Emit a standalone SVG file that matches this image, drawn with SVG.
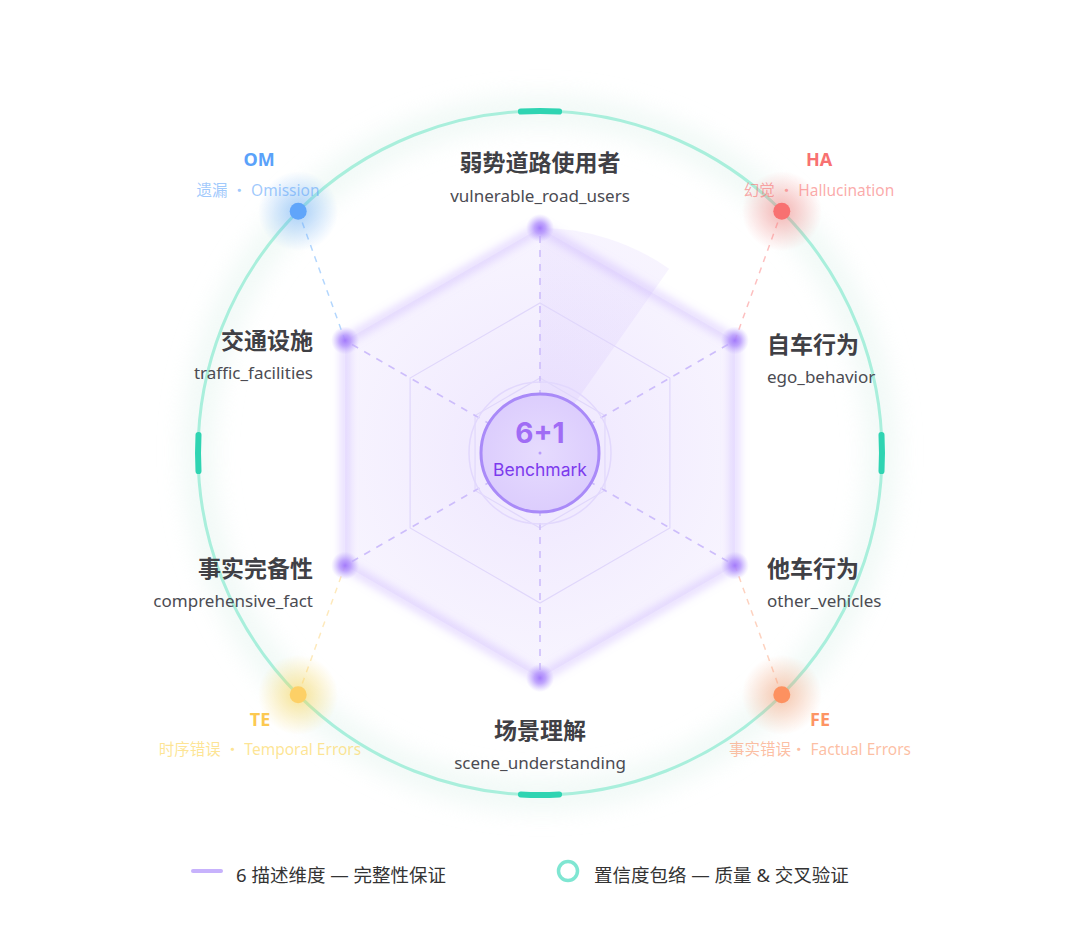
<svg xmlns="http://www.w3.org/2000/svg" width="1080" height="929" viewBox="0 0 1080 929">
<style>
.t{font-family:"Noto Sans","Noto Sans CJK SC",sans-serif}
.dt{font-size:23px;font-weight:700;fill:#404045}
.ds{font-size:17px;fill:#4b4b52}
.ck{font-size:18px;font-weight:700}
.cs{font-size:15.5px}
.lg{font-size:18.5px;fill:#333}
.axis{stroke:#cdbdfb;stroke-width:1.6;stroke-dasharray:7 7;fill:none}
.grid{stroke:#e0d7fb;stroke-width:1.2;fill:none}
.tick{stroke:#2fd4b2;stroke-width:6;stroke-linecap:round;fill:none}
</style>
<defs>
<filter id="b3" x="-20%" y="-20%" width="140%" height="140%"><feGaussianBlur stdDeviation="4"/></filter>
<filter id="b10" x="-20%" y="-20%" width="140%" height="140%"><feGaussianBlur stdDeviation="12"/></filter>
<radialGradient id="polyG" cx="540" cy="453" r="225" gradientUnits="userSpaceOnUse">
<stop offset="0" stop-color="#e6dafe" stop-opacity="0.7"/>
<stop offset="1" stop-color="#f0eafe" stop-opacity="0.5"/>
</radialGradient>
<radialGradient id="secG" cx="540" cy="453" r="225" gradientUnits="userSpaceOnUse">
<stop offset="0" stop-color="#c9b2fb" stop-opacity="0.2"/>
<stop offset="1" stop-color="#dccdfd" stop-opacity="0.22"/>
</radialGradient>
<radialGradient id="ctrG" cx="0.5" cy="0.5" r="0.5">
<stop offset="0" stop-color="#e6dbfe"/>
<stop offset="1" stop-color="#dccdfd"/>
</radialGradient>
<radialGradient id="hB"><stop offset="0.2" stop-color="#60a5fa" stop-opacity="0.4"/><stop offset="1" stop-color="#60a5fa" stop-opacity="0"/></radialGradient>
<radialGradient id="hR"><stop offset="0.2" stop-color="#f87171" stop-opacity="0.4"/><stop offset="1" stop-color="#f87171" stop-opacity="0"/></radialGradient>
<radialGradient id="hY"><stop offset="0.2" stop-color="#fcd34d" stop-opacity="0.45"/><stop offset="1" stop-color="#fcd34d" stop-opacity="0"/></radialGradient>
<radialGradient id="hO"><stop offset="0.2" stop-color="#fb9466" stop-opacity="0.4"/><stop offset="1" stop-color="#fb9466" stop-opacity="0"/></radialGradient>
<radialGradient id="vG"><stop offset="0" stop-color="#a47cfb"/><stop offset="0.4" stop-color="#b393fc" stop-opacity="0.8"/><stop offset="1" stop-color="#c4b0fd" stop-opacity="0"/></radialGradient>
</defs>
<rect width="1080" height="929" fill="#fff"/>

<g id="envelope">
<circle cx="540" cy="453" r="342" fill="none" stroke="#e6f5f0" stroke-width="30" opacity="0.6" filter="url(#b10)"/>
<circle cx="540" cy="453" r="342" fill="none" stroke="#a9efdc" stroke-width="3"/>
<path class="tick" d="M520.9,111.5 A342,342 0 0 1 559.1,111.5"/>
<path class="tick" d="M520.9,794.5 A342,342 0 0 0 559.1,794.5"/>
<path class="tick" d="M198.5,434.9 A342,342 0 0 0 198.5,471.1"/>
<path class="tick" d="M881.5,434.9 A342,342 0 0 1 881.5,471.1"/>
</g>

<g id="radar">
<polygon points="540,228 734.9,340.5 734.9,565.5 540,678 345.1,565.5 345.1,340.5" fill="url(#polyG)"/>
<path d="M540,453 L540,228 A225,225 0 0 1 669.1,268.7 Z" fill="url(#secG)"/>
<polygon points="540,228 734.9,340.5 734.9,565.5 540,678 345.1,565.5 345.1,340.5" fill="none" stroke="#b99dfd" stroke-width="10" stroke-opacity="0.35" filter="url(#b3)"/>
<polygon class="grid" points="540,303 669.9,378 669.9,528 540,603 410.1,528 410.1,378"/>
<polygon class="grid" points="540,378 604.95,415.5 604.95,490.5 540,528 475.05,490.5 475.05,415.5"/>
</g>

<g id="connectors">
<line class="axis" x1="540" y1="453" x2="540" y2="228"/>
<line class="axis" x1="540" y1="453" x2="734.9" y2="340.5"/>
<line class="axis" x1="540" y1="453" x2="734.9" y2="565.5"/>
<line class="axis" x1="540" y1="453" x2="540" y2="678"/>
<line class="axis" x1="540" y1="453" x2="345.1" y2="565.5"/>
<line class="axis" x1="540" y1="453" x2="345.1" y2="340.5"/>
<line x1="298.2" y1="211.2" x2="345.1" y2="340.5" stroke="#93c5fd" stroke-width="1.5" stroke-dasharray="6 6" opacity="0.7"/>
<line x1="781.8" y1="211.2" x2="734.9" y2="340.5" stroke="#fca5a5" stroke-width="1.5" stroke-dasharray="6 6" opacity="0.7"/>
<line x1="298.2" y1="694.8" x2="345.1" y2="565.5" stroke="#fde0a0" stroke-width="1.5" stroke-dasharray="6 6" opacity="0.7"/>
<line x1="781.8" y1="694.8" x2="734.9" y2="565.5" stroke="#fdbfa5" stroke-width="1.5" stroke-dasharray="6 6" opacity="0.7"/>
</g>

<g id="vertices">
<circle cx="540" cy="228" r="14" fill="url(#vG)"/>
<circle cx="734.9" cy="340.5" r="14" fill="url(#vG)"/>
<circle cx="734.9" cy="565.5" r="14" fill="url(#vG)"/>
<circle cx="540" cy="678" r="14" fill="url(#vG)"/>
<circle cx="345.1" cy="565.5" r="14" fill="url(#vG)"/>
<circle cx="345.1" cy="340.5" r="14" fill="url(#vG)"/>
</g>

<g id="center">
<circle cx="540" cy="453" r="71" fill="none" stroke="#e2d8fd" stroke-width="1.5"/>
<circle cx="540" cy="453" r="59" fill="url(#ctrG)" stroke="#a98af8" stroke-width="3"/>
<circle cx="540" cy="453" r="1.5" fill="#b99cfb"/>
<text x="540" y="443" text-anchor="middle" font-family="Inter,'Noto Sans',sans-serif" font-size="28" font-weight="700" fill="#a06cf5">6+1</text>
<text x="540" y="476" text-anchor="middle" font-family="Inter,'Noto Sans',sans-serif" font-size="17.5" fill="#7c3aed">Benchmark</text>
</g>

<g id="dim-top" class="t">
<text class="dt" x="540" y="171" text-anchor="middle">弱势道路使用者</text>
<text class="ds" x="540" y="202" text-anchor="middle">vulnerable_road_users</text>
</g>
<g id="dim-tr" class="t">
<text class="dt" x="767" y="353">自车行为</text>
<text class="ds" x="767" y="383">ego_behavior</text>
</g>
<g id="dim-br" class="t">
<text class="dt" x="767" y="577">他车行为</text>
<text class="ds" x="767" y="607">other_vehicles</text>
</g>
<g id="dim-bottom" class="t">
<text class="dt" x="540" y="739" text-anchor="middle">场景理解</text>
<text class="ds" x="540" y="769" text-anchor="middle">scene_understanding</text>
</g>
<g id="dim-bl" class="t">
<text class="dt" x="313" y="577" text-anchor="end">事实完备性</text>
<text class="ds" x="313" y="607" text-anchor="end">comprehensive_fact</text>
</g>
<g id="dim-tl" class="t">
<text class="dt" x="313" y="349" text-anchor="end">交通设施</text>
<text class="ds" x="313" y="379" text-anchor="end">traffic_facilities</text>
</g>

<g id="om" class="t">
<circle cx="298.2" cy="211.2" r="40" fill="url(#hB)"/>
<circle cx="298.2" cy="211.2" r="8.5" fill="#60a5fa"/>
<text class="ck" x="259" y="166" text-anchor="middle" fill="#5aa2fa">OM</text>
<text class="cs" x="258" y="196" text-anchor="middle" fill="#60a5fa" fill-opacity="0.6">遗漏 ・ Omission</text>
</g>
<g id="ha" class="t">
<circle cx="781.8" cy="211.2" r="40" fill="url(#hR)"/>
<circle cx="781.8" cy="211.2" r="8.5" fill="#f87171"/>
<text class="ck" x="819" y="166" text-anchor="middle" fill="#f87171">HA</text>
<text class="cs" x="819" y="196" text-anchor="middle" fill="#f87171" fill-opacity="0.6">幻觉 ・ Hallucination</text>
</g>
<g id="te" class="t">
<circle cx="298.2" cy="694.8" r="40" fill="url(#hY)"/>
<circle cx="298.2" cy="694.8" r="8.5" fill="#fdd066"/>
<text class="ck" x="260" y="726" text-anchor="middle" fill="#fcc951">TE</text>
<text class="cs" x="260" y="755" text-anchor="middle" fill="#fcd34d" fill-opacity="0.6">时序错误 ・ Temporal Errors</text>
</g>
<g id="fe" class="t">
<circle cx="781.8" cy="694.8" r="40" fill="url(#hO)"/>
<circle cx="781.8" cy="694.8" r="8.5" fill="#fd9160"/>
<text class="ck" x="820" y="726" text-anchor="middle" fill="#fd9464">FE</text>
<text class="cs" x="820" y="755" text-anchor="middle" fill="#fb9466" fill-opacity="0.6">事实错误・ Factual Errors</text>
</g>

<g id="legend" class="t">
<line x1="193" y1="871" x2="221" y2="871" stroke="#c7b2fc" stroke-width="4" stroke-linecap="round"/>
<text class="lg" x="236" y="882">6 描述维度 — 完整性保证</text>
<circle cx="568" cy="871" r="9.5" fill="none" stroke="#7fe6d2" stroke-width="3.5"/>
<text class="lg" x="594" y="882">置信度包络 — 质量 &amp; 交叉验证</text>
</g>
</svg>
